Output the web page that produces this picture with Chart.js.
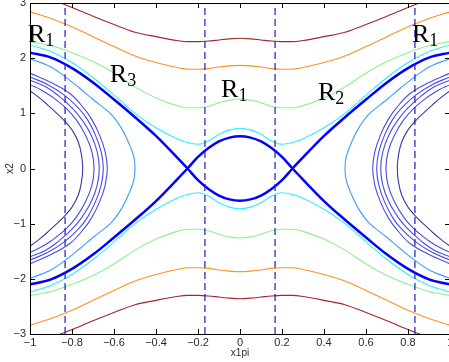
<!DOCTYPE html>
<html>
<head>
<meta charset="utf-8">
<script src="https://cdn.jsdelivr.net/npm/chart.js@4.4.1/dist/chart.umd.min.js"></script>
<style>
  html, body { margin: 0; padding: 0; background: #fff; overflow: hidden; }
  #wrap { position: relative; width: 449px; height: 362px; overflow: hidden; }
  canvas { position: absolute; left: 0; top: 0; }
</style>
</head>
<body>
<div id="wrap"><canvas id="chart" width="452" height="362"></canvas></div>
<script>
// shared x grid for the curves that run across the whole strip
const gridX = [-1, -0.9, -0.8, -0.7, -0.6, -0.5, -0.4, -0.3, -0.25, -0.2, -0.15, -0.1, -0.05, 0,
  0.05, 0.1, 0.15, 0.2, 0.25, 0.3, 0.4, 0.5, 0.6, 0.7, 0.8, 0.9, 1];

const darkRedTop = [3.25, 3.07, 2.92, 2.76, 2.61, 2.47, 2.39, 2.32, 2.30, 2.30, 2.31, 2.33, 2.35, 2.36,
  2.35, 2.33, 2.31, 2.30, 2.30, 2.32, 2.39, 2.47, 2.61, 2.76, 2.92, 3.07, 3.25];
const darkRedBottom = [-3.25, -3.07, -2.92, -2.76, -2.61, -2.47, -2.39, -2.32, -2.30, -2.30, -2.31, -2.33, -2.35, -2.36,
  -2.35, -2.33, -2.31, -2.30, -2.30, -2.32, -2.39, -2.47, -2.61, -2.76, -2.92, -3.07, -3.25];
const orangeTop = [2.84, 2.72, 2.57, 2.39, 2.21, 2.04, 1.92, 1.83, 1.80, 1.80, 1.81, 1.84, 1.86, 1.87,
  1.86, 1.84, 1.81, 1.80, 1.80, 1.83, 1.92, 2.04, 2.21, 2.39, 2.57, 2.72, 2.84];
const orangeBottom = [-2.84, -2.72, -2.57, -2.39, -2.21, -2.04, -1.92, -1.83, -1.80, -1.80, -1.81, -1.84, -1.86, -1.87,
  -1.86, -1.84, -1.81, -1.80, -1.80, -1.83, -1.92, -2.04, -2.21, -2.39, -2.57, -2.72, -2.84];
const greenTop = [2.30, 2.23, 2.10, 1.94, 1.73, 1.48, 1.28, 1.14, 1.10, 1.10, 1.13, 1.19, 1.24, 1.26,
  1.24, 1.19, 1.13, 1.10, 1.10, 1.14, 1.28, 1.48, 1.73, 1.94, 2.10, 2.23, 2.30];
const greenBottom = [-2.30, -2.23, -2.10, -1.94, -1.73, -1.48, -1.28, -1.14, -1.10, -1.10, -1.13, -1.19, -1.24, -1.26,
  -1.24, -1.19, -1.13, -1.10, -1.10, -1.14, -1.28, -1.48, -1.73, -1.94, -2.10, -2.23, -2.30];
const cyanTop = [2.24, 2.12, 1.92, 1.65, 1.33, 1.00, 0.74, 0.54, 0.47, 0.44, 0.50, 0.62, 0.70, 0.73,
  0.70, 0.62, 0.50, 0.44, 0.47, 0.54, 0.74, 1.00, 1.33, 1.65, 1.92, 2.12, 2.24];
const cyanBottom = [-2.24, -2.12, -1.92, -1.65, -1.33, -1.00, -0.74, -0.54, -0.47, -0.44, -0.50, -0.62, -0.70, -0.73,
  -0.70, -0.62, -0.50, -0.44, -0.47, -0.54, -0.74, -1.00, -1.33, -1.65, -1.92, -2.12, -2.24];
// separatrices (bold), they cross at x = -0.25 and 0.25
const sepA = [2.10, 2.01, 1.82, 1.56, 1.25, 0.93, 0.59, 0.20, 0, -0.21, -0.37, -0.49, -0.56, -0.585,
  -0.56, -0.49, -0.37, -0.21, 0, 0.20, 0.59, 0.93, 1.25, 1.56, 1.82, 2.01, 2.10];
const sepB = [-2.10, -2.01, -1.82, -1.56, -1.25, -0.93, -0.59, -0.20, 0, 0.21, 0.37, 0.49, 0.56, 0.585,
  0.56, 0.49, 0.37, 0.21, 0, -0.20, -0.59, -0.93, -1.25, -1.56, -1.82, -2.01, -2.10];

// closed-ish curves around x = -1 and x = 1
const lightBlueY = [1.99, 1.85, 1.67, 1.46, 1.25, 0.98, 0.70, 0.41, 0.20, 0, -0.20, -0.41, -0.70, -0.98, -1.25, -1.46, -1.67, -1.85, -1.99];
const lightBlueLX = [-1, -0.905, -0.835, -0.765, -0.7, -0.613, -0.56, -0.524, -0.505, -0.5, -0.505, -0.524, -0.56, -0.613, -0.7, -0.765, -0.835, -0.905, -1];
const lightBlueRX = [1, 0.905, 0.835, 0.765, 0.7, 0.613, 0.56, 0.524, 0.505, 0.5, 0.505, 0.524, 0.56, 0.613, 0.7, 0.765, 0.835, 0.905, 1];

const navyY = [1.41, 1.28, 1.15, 1.01, 0.88, 0.70, 0.48, 0.25, 0, -0.25, -0.48, -0.70, -0.88, -1.01, -1.15, -1.28, -1.41];
const navyLX = [-1, -0.955, -0.915, -0.875, -0.84, -0.80, -0.77, -0.755, -0.749, -0.755, -0.77, -0.80, -0.84, -0.875, -0.915, -0.955, -1];
const navyRX = [1, 0.955, 0.915, 0.875, 0.84, 0.80, 0.77, 0.755, 0.749, 0.755, 0.77, 0.80, 0.84, 0.875, 0.915, 0.955, 1];

const blue1Y = [1.52, 1.42, 1.30, 1.10, 0.89, 0.60, 0.30, 0, -0.30, -0.60, -0.89, -1.10, -1.30, -1.42, -1.52];
const blue1LX = [-1, -0.945, -0.895, -0.83, -0.781, -0.735, -0.705, -0.695, -0.705, -0.735, -0.781, -0.83, -0.895, -0.945, -1];
const blue1RX = [1, 0.945, 0.895, 0.83, 0.781, 0.735, 0.705, 0.695, 0.705, 0.735, 0.781, 0.83, 0.895, 0.945, 1];
const blue2Y = [1.60, 1.48, 1.32, 1.10, 0.89, 0.60, 0.30, 0, -0.30, -0.60, -0.89, -1.10, -1.32, -1.48, -1.60];
const blue2LX = [-1, -0.925, -0.865, -0.80, -0.754, -0.708, -0.68, -0.67, -0.68, -0.708, -0.754, -0.80, -0.865, -0.925, -1];
const blue2RX = [1, 0.925, 0.865, 0.80, 0.754, 0.708, 0.68, 0.67, 0.68, 0.708, 0.754, 0.80, 0.865, 0.925, 1];
const blue3Y = [1.66, 1.52, 1.34, 1.10, 0.89, 0.60, 0.30, 0, -0.30, -0.60, -0.89, -1.10, -1.34, -1.52, -1.66];
const blue3LX = [-1, -0.915, -0.84, -0.77, -0.727, -0.688, -0.661, -0.651, -0.661, -0.688, -0.727, -0.77, -0.84, -0.915, -1];
const blue3RX = [1, 0.915, 0.84, 0.77, 0.727, 0.688, 0.661, 0.651, 0.661, 0.688, 0.727, 0.77, 0.84, 0.915, 1];
const blue4Y = [1.73, 1.56, 1.36, 1.10, 0.89, 0.60, 0.30, 0, -0.30, -0.60, -0.89, -1.10, -1.36, -1.56, -1.73];
const blue4LX = [-1, -0.90, -0.81, -0.745, -0.706, -0.668, -0.642, -0.632, -0.642, -0.668, -0.706, -0.745, -0.81, -0.90, -1];
const blue4RX = [1, 0.90, 0.81, 0.745, 0.706, 0.668, 0.642, 0.632, 0.642, 0.668, 0.706, 0.745, 0.81, 0.90, 1];

// region borders (dashed)
const borders = [-0.833, -0.167, 0.167, 0.833];

// region names
const regionText = ['R', 'R', 'R', 'R', 'R'];
const regionSub = ['1', '3', '1', '2', '1'];
const regionX = [-1.01, -0.62, -0.09, 0.371, 0.819];
const regionY = [2.29, 1.56, 1.29, 1.25, 2.29];

const xTicks = [-1, -0.8, -0.6, -0.4, -0.2, 0, 0.2, 0.4, 0.6, 0.8, 1];
const yTicks = [-3, -2, -1, 0, 1, 2, 3];

function curve(xs, ys, color, width) {
  return {
    data: xs.map((x, i) => ({ x: x, y: ys[i] })),
    borderColor: color,
    borderWidth: width,
    showLine: true,
    pointRadius: 0,
    tension: 0.4,
    fill: false
  };
}

// curves that are a function of x get a monotone spline
function across(ys, color, width) {
  const d = curve(gridX, ys, color, width);
  d.cubicInterpolationMode = 'monotone';
  return d;
}

const thin = 1.1;
const datasets = [];
borders.forEach(b => {
  const d = curve([b, b], [-3, 3], '#1c1cc0', 1.2);
  d.borderDash = [7, 4];
  d.tension = 0;
  datasets.push(d);
});
datasets.push(across(darkRedTop, '#a3262b', thin));
datasets.push(across(darkRedBottom, '#a3262b', thin));
datasets.push(across(orangeTop, '#ff9124', thin));
datasets.push(across(orangeBottom, '#ff9124', thin));
datasets.push(across(greenTop, '#8ef08e', thin));
datasets.push(across(greenBottom, '#8ef08e', thin));
datasets.push(across(cyanTop, '#2ef0ff', thin));
datasets.push(across(cyanBottom, '#2ef0ff', thin));
datasets.push(curve(lightBlueLX, lightBlueY, '#3c9cff', thin));
datasets.push(curve(lightBlueRX, lightBlueY, '#3c9cff', thin));
datasets.push(curve(blue1LX, blue1Y, '#4b4be6', thin));
datasets.push(curve(blue1RX, blue1Y, '#4b4be6', thin));
datasets.push(curve(blue2LX, blue2Y, '#4b4be6', thin));
datasets.push(curve(blue2RX, blue2Y, '#4b4be6', thin));
datasets.push(curve(blue3LX, blue3Y, '#4b4be6', thin));
datasets.push(curve(blue3RX, blue3Y, '#4b4be6', thin));
datasets.push(curve(blue4LX, blue4Y, '#4b4be6', thin));
datasets.push(curve(blue4RX, blue4Y, '#4b4be6', thin));
datasets.push(curve(navyLX, navyY, '#3a3a9c', thin));
datasets.push(curve(navyRX, navyY, '#3a3a9c', thin));
datasets.push(across(sepA, '#0000ff', 2.5));
datasets.push(across(sepB, '#0000ff', 2.5));

function fmt(v) {
  const s = String(Math.round(v * 10) / 10);
  return v < 0 ? '\u2212' + s.slice(1) : s;
}

// axes box, inward ticks, labels and region names
const axesPlugin = {
  id: 'axesPlugin',
  afterDatasetsDraw(chart) {
    const ctx = chart.ctx;
    const a = chart.chartArea;
    const xs = chart.scales.x;
    const ys = chart.scales.y;
    ctx.save();

    ctx.fillStyle = '#000';
    for (let i = 0; i < regionText.length; i++) {
      const px = xs.getPixelForValue(regionX[i]);
      const py = ys.getPixelForValue(regionY[i]);
      ctx.font = "26px 'Liberation Serif'";
      ctx.textAlign = 'left';
      ctx.textBaseline = 'alphabetic';
      ctx.fillText(regionText[i], px, py);
      const w = ctx.measureText(regionText[i]).width;
      ctx.font = "18px 'Liberation Serif'";
      ctx.fillText(regionSub[i], px + w, py + 4);
    }

    ctx.strokeStyle = '#000';
    ctx.lineWidth = 1;
    ctx.strokeRect(Math.round(a.left) + 0.5, Math.round(a.top) + 0.5,
      Math.round(a.right - a.left), Math.round(a.bottom - a.top));

    ctx.beginPath();
    xTicks.forEach(v => {
      const px = Math.round(xs.getPixelForValue(v)) + 0.5;
      ctx.moveTo(px, a.bottom); ctx.lineTo(px, a.bottom - 5);
      ctx.moveTo(px, a.top); ctx.lineTo(px, a.top + 5);
    });
    yTicks.forEach(v => {
      const py = Math.round(ys.getPixelForValue(v)) + 0.5;
      ctx.moveTo(a.left, py); ctx.lineTo(a.left + 5, py);
      ctx.moveTo(a.right, py); ctx.lineTo(a.right - 5, py);
    });
    ctx.stroke();

    ctx.fillStyle = '#2b2b2b';
    ctx.font = "11px 'Liberation Sans'";
    ctx.textAlign = 'center';
    ctx.textBaseline = 'middle';
    xTicks.forEach(v => {
      ctx.fillText(fmt(v), xs.getPixelForValue(v), a.bottom + 9);
    });
    ctx.textAlign = 'right';
    yTicks.forEach(v => {
      ctx.fillText(fmt(v), a.left - 4, ys.getPixelForValue(v));
    });

    ctx.font = "10px 'Liberation Sans'";
    ctx.textAlign = 'center';
    ctx.fillText('x1pi', xs.getPixelForValue(0), a.bottom + 19);
    ctx.save();
    ctx.translate(10, ys.getPixelForValue(0));
    ctx.rotate(-Math.PI / 2);
    ctx.fillText('x2', 0, 0);
    ctx.restore();

    ctx.restore();
  }
};

new Chart(document.getElementById('chart'), {
  type: 'scatter',
  data: { datasets: datasets },
  options: {
    responsive: false,
    animation: false,
    layout: { padding: { left: 30, right: 2, top: 3, bottom: 28 } },
    plugins: { legend: { display: false }, tooltip: { enabled: false } },
    scales: {
      x: { type: 'linear', min: -1, max: 1, display: false },
      y: { type: 'linear', min: -3, max: 3, display: false }
    }
  },
  plugins: [axesPlugin]
});
</script>
</body>
</html>
